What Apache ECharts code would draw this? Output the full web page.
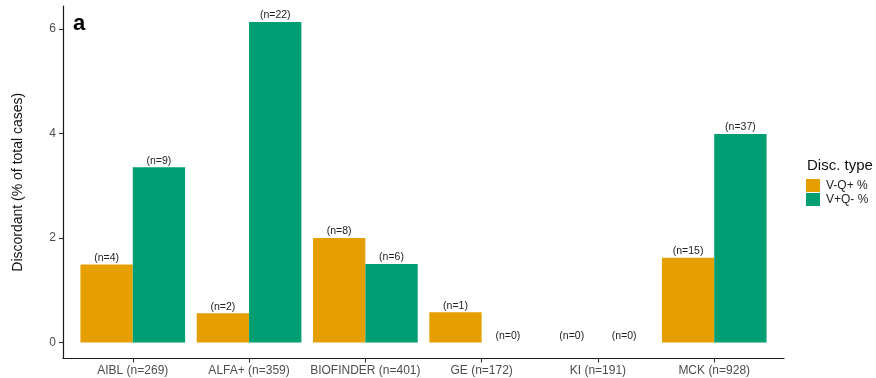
<!DOCTYPE html>
<html>
<head>
<meta charset="utf-8">
<script src="https://cdn.jsdelivr.net/npm/echarts@6/dist/echarts.min.js"></script>
<style>
  html, body { margin: 0; padding: 0; background: #fff; }
  #chart { width: 876px; height: 378px; }
</style>
</head>
<body>
<div id="chart"></div>
<script>
// Cohorts (x categories)
const cohorts = ['AIBL (n=269)', 'ALFA+ (n=359)', 'BIOFINDER (n=401)', 'GE (n=172)', 'KI (n=191)', 'MCK (n=928)'];
// Discordant cases, % of total per cohort
const vqMinusPlus = [1.49, 0.56, 2.00, 0.58, 0, 1.62];   // V-Q+ %
const vqPlusMinus = [3.35, 6.13, 1.50, 0, 0, 3.99];      // V+Q- %
// Case counts printed above each bar
const countsMinusPlus = [4, 2, 8, 1, 0, 15];
const countsPlusMinus = [9, 22, 6, 0, 0, 37];
// Y tick values
const yTicks = [0, 2, 4, 6];
const seriesNames = ['V-Q+ %', 'V+Q- %'];
const legendTitle = 'Disc. type';
const yTitle = 'Discordant (% of total cases)';
const panelTag = 'a';

const ORANGE = '#E69F00';
const GREEN = '#009E73';
const FONT = '"Liberation Sans", Arial, sans-serif';

// y range with 5% padding on both sides of the data range
const allVals = vqMinusPlus.concat(vqPlusMinus);
const yLo = 0, yHi = Math.max.apply(null, allVals);
const pad = (yHi - yLo) * 0.05;
const yMin = yLo - pad, yMax = yHi + pad;

// Outer frame spans 6 categories + 0.6 category padding each side
const frameLeft = 63, frameRight = 784;
const bandW = (frameRight - frameLeft) / 6.2;
const innerLeft = frameLeft + 0.1 * bandW;
const innerWidth = bandW * 6;
const gridTop = 6, gridBottom = 19.5;

const chart = echarts.init(document.getElementById('chart'), null, { renderer: 'canvas' });

function labelFor(counts) {
  return {
    show: true,
    position: 'top',
    distance: 1,
    fontFamily: FONT,
    fontSize: 10.5,
    color: '#222',
    formatter: p => '(n=' + counts[p.dataIndex] + ')'
  };
}

const barW = bandW * 0.45;

chart.setOption({
  animation: false,
  backgroundColor: '#fff',
  title: {
    text: panelTag,
    left: 68, top: 8,
    textStyle: { fontFamily: FONT, fontSize: 22, fontWeight: 'bold', color: '#000' }
  },
  graphic: [{
    type: 'text',
    left: 807, top: 158,
    style: { text: legendTitle, font: '15px ' + FONT, fill: '#111' }
  }],
  legend: {
    data: seriesNames,
    orient: 'vertical',
    left: 806, top: 179,
    itemWidth: 14, itemHeight: 13, itemGap: 1,
    icon: 'rect',
    padding: 0,
    textStyle: { fontFamily: FONT, fontSize: 12, color: '#222', padding: [0, 0, 0, 1] }
  },
  grid: [
    { left: frameLeft, width: frameRight - frameLeft, top: gridTop, bottom: gridBottom },
    { left: innerLeft, width: innerWidth, top: gridTop, bottom: gridBottom }
  ],
  xAxis: [
    {
      gridIndex: 0, type: 'value', min: 0, max: 1, position: 'bottom',
      axisLine: { show: true, onZero: false, lineStyle: { color: '#1a1a1a', width: 1.2 } },
      axisTick: { show: false }, axisLabel: { show: false }, splitLine: { show: false }
    },
    {
      gridIndex: 1, type: 'category', data: cohorts, position: 'bottom',
      axisLine: { show: false, onZero: false },
      axisTick: { show: true, alignWithLabel: true, length: 4, lineStyle: { color: '#333', width: 1.1 } },
      axisLabel: { interval: 0, fontFamily: FONT, fontSize: 12, color: '#4d4d4d', margin: 6 },
      splitLine: { show: false }
    }
  ],
  yAxis: [
    {
      gridIndex: 0, type: 'value', min: yMin, max: yMax,
      name: yTitle, nameLocation: 'middle', nameGap: 38,
      nameTextStyle: { fontFamily: FONT, fontSize: 14, color: '#111' },
      axisLine: { show: true, onZero: false, lineStyle: { color: '#1a1a1a', width: 1.2 } },
      axisTick: { show: true, length: 4, customValues: yTicks, lineStyle: { color: '#333', width: 1.1 } },
      axisLabel: { customValues: yTicks, fontFamily: FONT, fontSize: 12, color: '#4d4d4d', margin: 7 },
      splitLine: { show: false }
    },
    {
      gridIndex: 1, type: 'value', min: yMin, max: yMax, show: false,
      splitLine: { show: false }
    }
  ],
  series: [
    {
      name: seriesNames[0], type: 'bar', xAxisIndex: 1, yAxisIndex: 1,
      data: vqMinusPlus, barWidth: barW, barGap: '0%',
      itemStyle: { color: ORANGE },
      label: labelFor(countsMinusPlus)
    },
    {
      name: seriesNames[1], type: 'bar', xAxisIndex: 1, yAxisIndex: 1,
      data: vqPlusMinus, barWidth: barW, barGap: '0%',
      itemStyle: { color: GREEN },
      label: labelFor(countsPlusMinus)
    }
  ]
});
</script>
</body>
</html>
